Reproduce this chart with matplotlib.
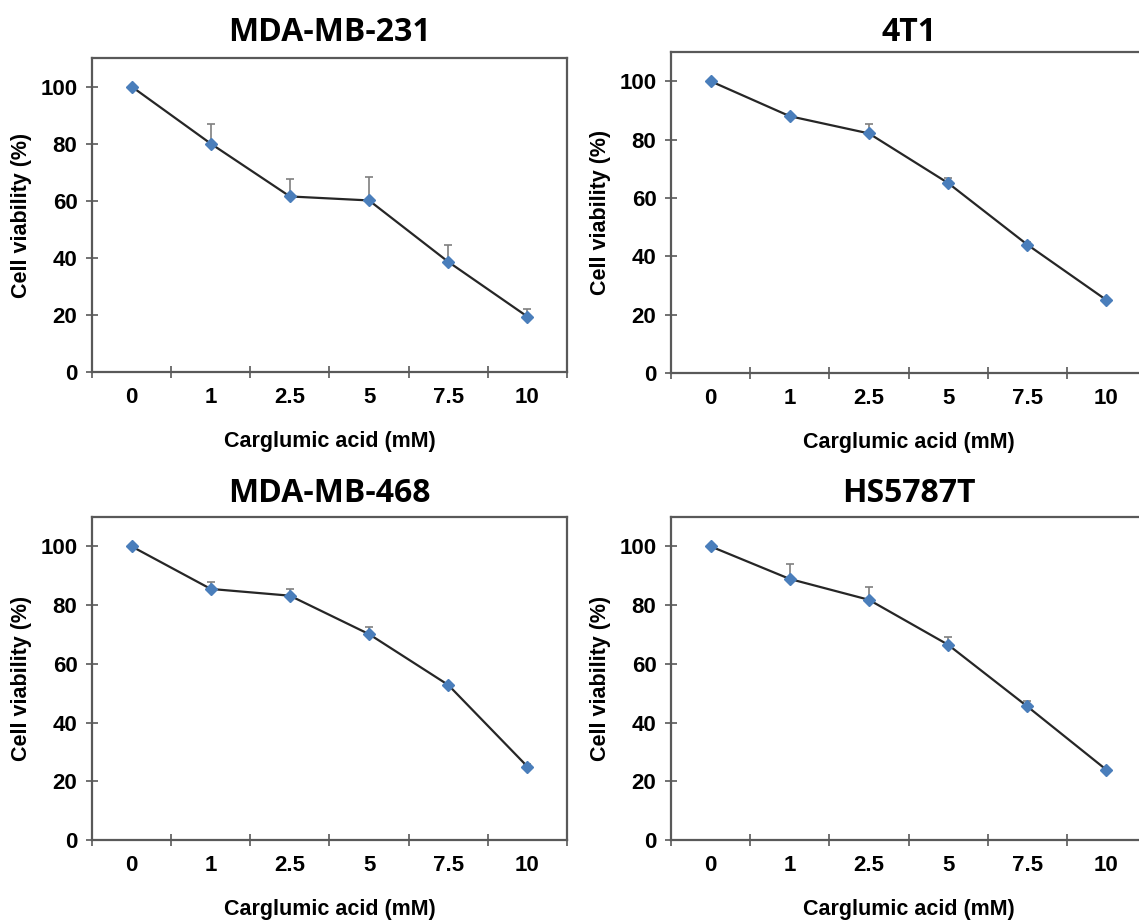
import numpy as np
import matplotlib
matplotlib.use('Agg')
import matplotlib.pyplot as plt

# doses (categorical x axis)
doses = ['0', '1', '2.5', '5', '7.5', '10']

# viability (%) and upper error per cell line
titles = ['MDA-MB-231', '4T1', 'MDA-MB-468', 'HS5787T']
mda231 = [100, 80.0, 61.5, 60.1, 38.6, 19.4]
mda231_err = [0, 7.0, 6.0, 8.2, 6.0, 2.6]
t41 = [100, 88.0, 82.1, 65.1, 44.0, 25.0]
t41_err = [0, 0.6, 3.3, 1.6, 0.8, 0.5]
mda468 = [100, 85.5, 83.2, 70.1, 52.8, 25.0]
mda468_err = [0, 2.3, 2.3, 2.4, 0.5, 0.8]
hs5787 = [100, 88.9, 81.8, 66.5, 45.5, 23.9]
hs5787_err = [0, 5.1, 4.3, 2.5, 1.7, 0.5]

values = [mda231, t41, mda468, hs5787]
errors = [mda231_err, t41_err, mda468_err, hs5787_err]

plt.rcParams['font.family'] = ['Liberation Sans', 'DejaVu Sans']

fig = plt.figure(figsize=(11.39, 9.22), dpi=100)

# axes boxes in pixels: left, top, right, bottom
W, H = 1139, 922
boxes = [(92, 58, 567, 372), (671, 52, 1146, 373),
         (92, 517, 567, 840), (671, 517, 1146, 840)]
title_pads = [12, 8, 11, 11]

spine_col = '#595959'
for i, (l, t, r, b) in enumerate(boxes):
    ax = fig.add_axes([l / W, (H - b) / H, (r - l) / W, (b - t) / H])
    x = np.arange(len(doses))
    y = np.array(values[i])
    e = np.array(errors[i])
    ax.errorbar(x, y, yerr=[np.zeros_like(e), e], fmt='none',
                ecolor='#7f7f7f', elinewidth=1.2, capsize=3, capthick=1.2, zorder=2)
    ax.plot(x, y, color='#262626', lw=1.6, zorder=3)
    ax.plot(x, y, 'D', color='#4a7ebb', markersize=6, zorder=4)

    ax.set_xlim(-0.5, len(doses) - 0.5)
    ax.set_ylim(0, 110)
    ax.set_yticks(range(0, 101, 20))
    ax.set_xticks(x)
    ax.set_xticklabels(doses)
    ax.set_xticks(np.arange(-0.5, len(doses), 1.0), minor=True)
    ax.tick_params(axis='x', which='major', length=0, pad=11,
                   labelsize=16)
    ax.tick_params(axis='x', which='minor', length=9, width=1.2,
                   direction='inout', color=spine_col)
    ax.tick_params(axis='y', which='major', length=9, width=1.2,
                   direction='inout', color=spine_col, pad=6, labelsize=16)
    for lab in ax.get_xticklabels() + ax.get_yticklabels():
        lab.set_fontweight('bold')

    for s in ax.spines.values():
        s.set_color(spine_col)
        s.set_linewidth(1.6)

    ax.set_xlabel('Carglumic acid (mM)', fontsize=15.5, fontweight='bold', labelpad=16)
    ax.set_ylabel('Cell viability (%)', fontsize=15.5, fontweight='bold', labelpad=6)
    ax.set_title(titles[i], fontsize=23, fontweight='bold', pad=title_pads[i],
                 family=['Open Sans', 'DejaVu Sans'])

fig.savefig('out.png', dpi=100)
